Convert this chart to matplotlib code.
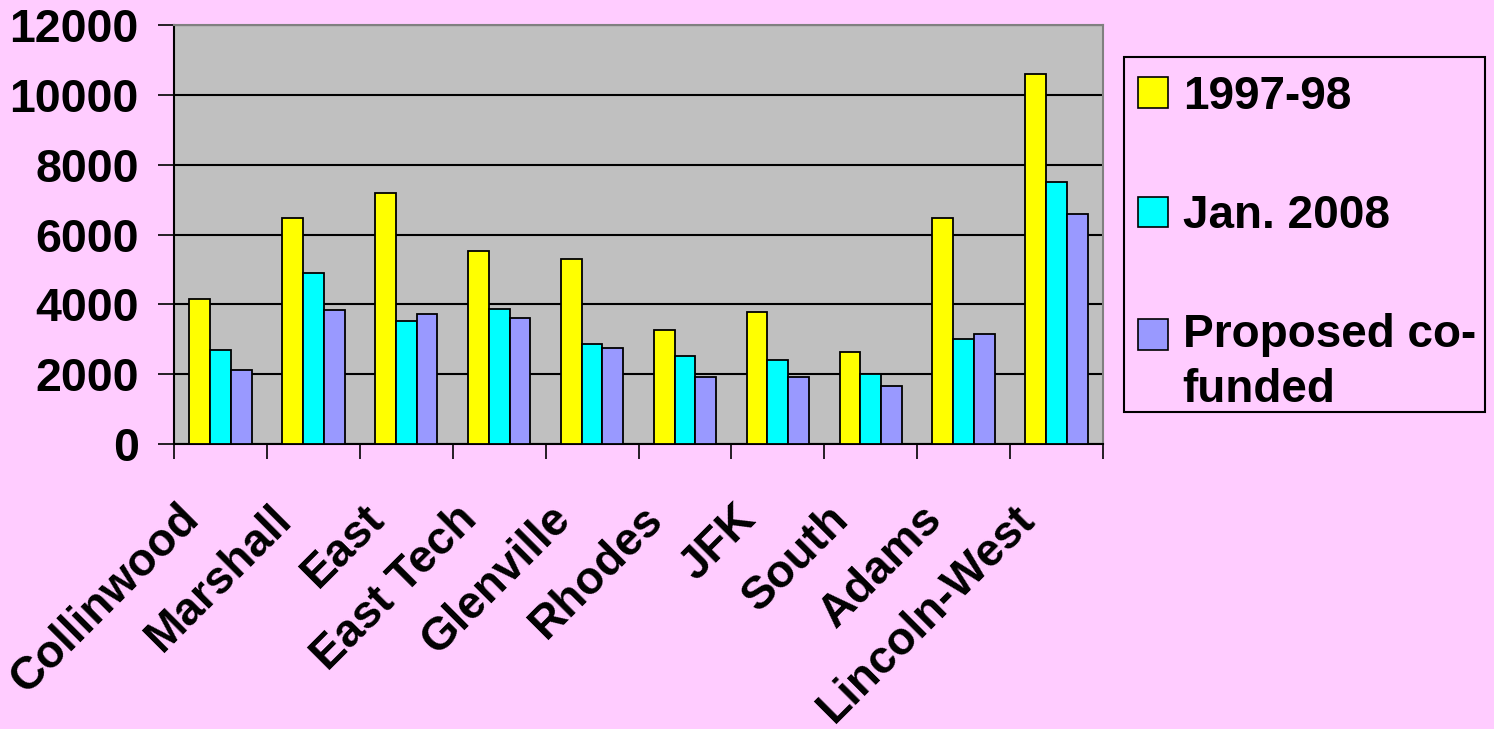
import matplotlib
matplotlib.use("Agg")
import matplotlib.pyplot as plt
import numpy as np
from matplotlib.patches import Rectangle
from matplotlib.legend_handler import HandlerPatch
from matplotlib.transforms import ScaledTranslation

schools = ["Collinwood", "Marshall", "East", "East Tech", "Glenville",
           "Rhodes", "JFK", "South", "Adams", "Lincoln-West"]
s1997 = [4160, 6460, 7200, 5540, 5310, 3260, 3770, 2630, 6460, 10590]
jan2008 = [2680, 4910, 3520, 3880, 2850, 2510, 2400, 2000, 3020, 7490]
proposed = [2110, 3830, 3710, 3600, 2740, 1930, 1930, 1660, 3150, 6580]
series_labels = ["1997-98", "Jan. 2008", "Proposed co-\nfunded"]
yticks = [0, 2000, 4000, 6000, 8000, 10000, 12000]

plt.rcParams['font.family'] = ['Liberation Sans', 'DejaVu Sans']
plt.rcParams['font.weight'] = 'bold'

pink = "#FFCCFF"
colors = ["#FFFF00", "#00FFFF", "#9999FF"]

fig = plt.figure(figsize=(14.94, 7.29), dpi=100, facecolor=pink)
ax = fig.add_axes([174/1494, 1-444/729, (1103-174)/1494, (444-25)/729])
ax.set_facecolor("#C0C0C0")

x = np.arange(len(schools))
w = 0.224
for k, (vals, c) in enumerate(zip([s1997, jan2008, proposed], colors)):
    ax.bar(x + (k - 1) * w, vals, width=w, color=c, edgecolor="black",
           linewidth=1.3, zorder=3)

ax.set_xlim(-0.5, len(schools) - 0.5)
ax.set_ylim(0, 12000)
ax.set_yticks(yticks)
ax.set_yticklabels([str(v) for v in yticks], fontsize=33.5, fontweight='bold')
ax.yaxis.grid(True, color="black", linewidth=1.5, zorder=1)
ax.set_axisbelow(True)
ax.tick_params(axis='y', direction='out', length=11.5, width=1.2, pad=14)

ax.set_xticks(x)
ax.set_xticklabels(schools, fontsize=33, fontweight='bold', rotation=45,
                   ha='right', va='top', rotation_mode='anchor')
ax.tick_params(axis='x', which='major', length=0, pad=38)
ax.set_xticks(np.arange(len(schools) + 1) - 0.5, minor=True)
ax.tick_params(axis='x', which='minor', direction='out', length=11, width=1.2)
off = ScaledTranslation(-44/100, 0, fig.dpi_scale_trans)
for lab in ax.get_xticklabels():
    lab.set_transform(lab.get_transform() + off)

for s in ['left', 'bottom']:
    ax.spines[s].set_color('black')
    ax.spines[s].set_linewidth(1.5)
for s in ['top', 'right']:
    ax.spines[s].set_color('#808080')
    ax.spines[s].set_linewidth(1.5)


def shifted_patch(legend, orig_handle, xdescent, ydescent, width, height, fontsize):
    return Rectangle((-xdescent, -ydescent + 21), width, height)


proxies = [Rectangle((0, 0), 1, 1, facecolor=c, edgecolor='black', linewidth=1.2)
           for c in colors]
leg = fig.legend(proxies, series_labels, loc='upper left',
                 bbox_to_anchor=(1124/1494, 1-61/729),
                 prop={'size': 33, 'weight': 'bold'},
                 frameon=False,
                 handlelength=0.65, handleheight=0.65, handletextpad=0.33,
                 labelspacing=1.64, borderpad=0.3, borderaxespad=0,
                 handler_map={proxies[2]: HandlerPatch(patch_func=shifted_patch)})
leg.get_texts()[2].set_linespacing(1.32)

# legend border box
fig.patches.append(Rectangle((1124/1494, 1-412/729), (1485-1124)/1494, (412-57)/729,
                             transform=fig.transFigure, facecolor='none',
                             edgecolor='black', linewidth=1.5, zorder=5))

fig.savefig("out.png", dpi=100, facecolor=pink)
